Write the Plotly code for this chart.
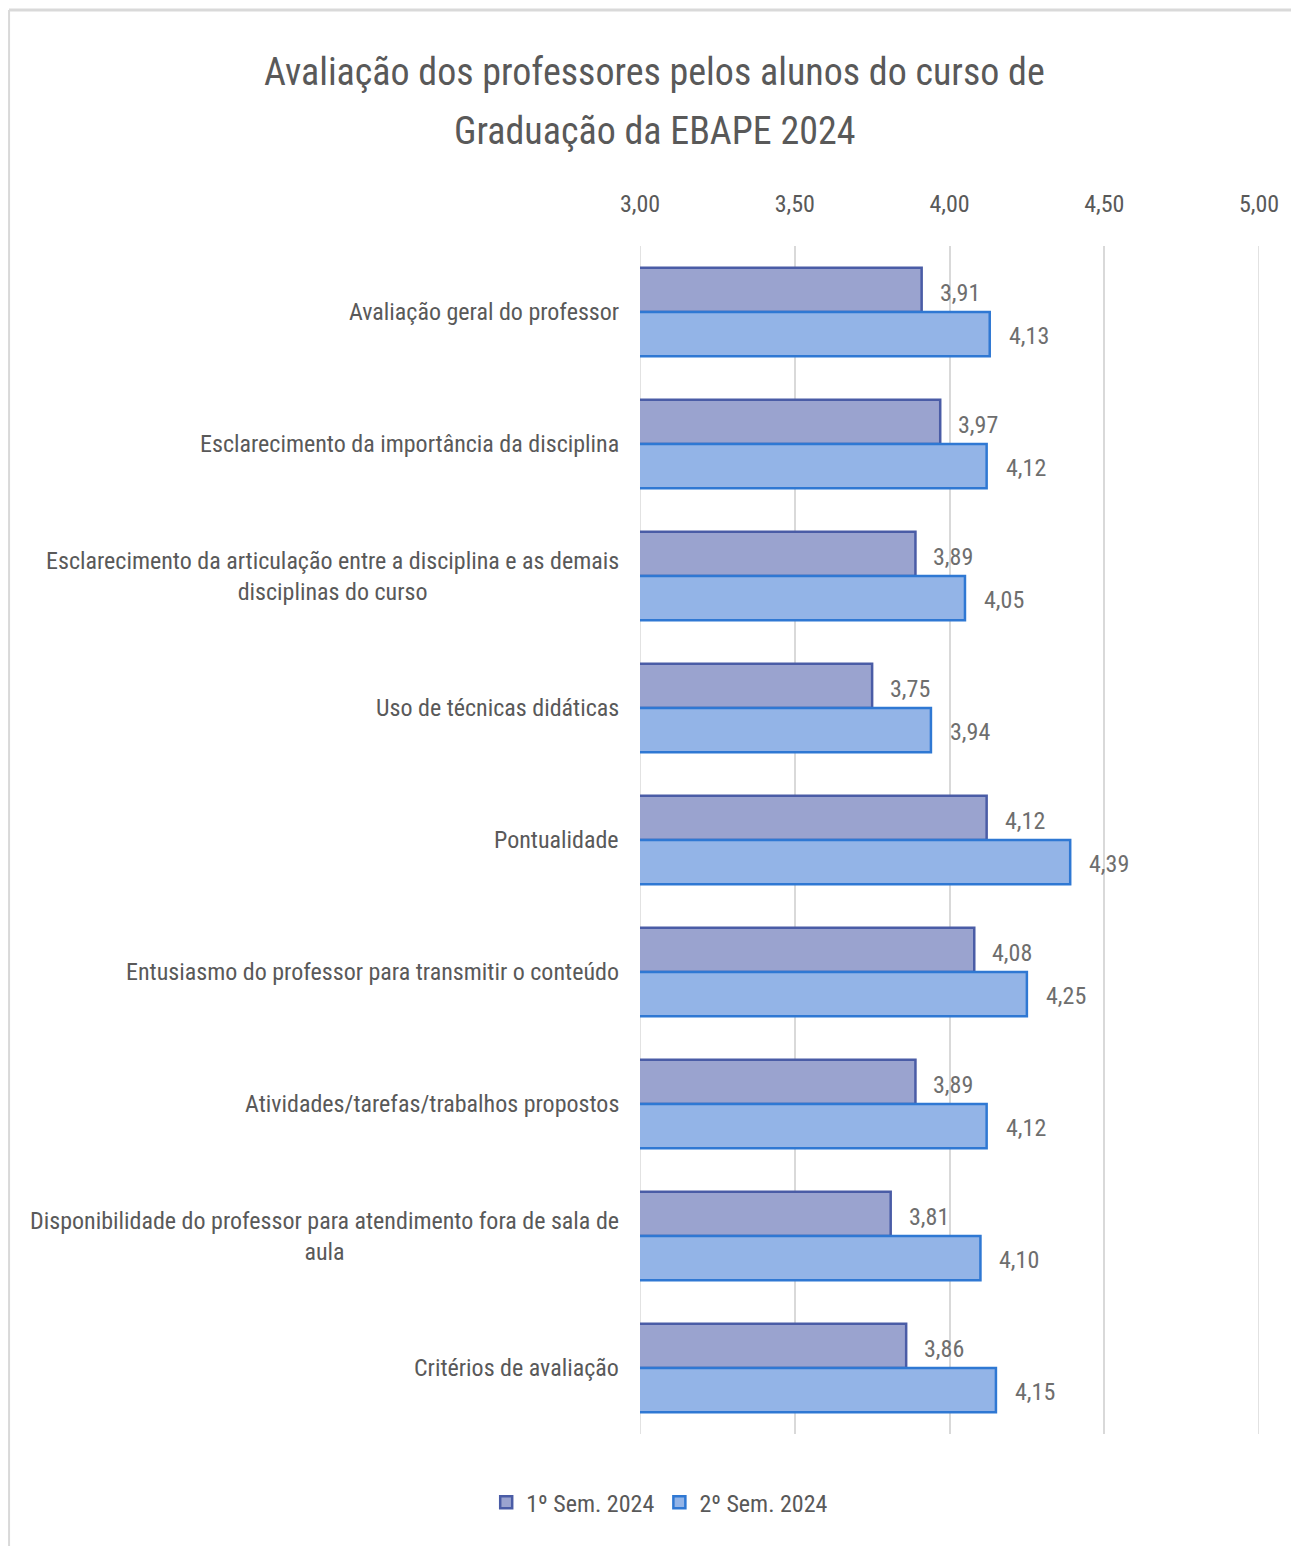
import plotly.graph_objects as go

categories = [
    "Avaliação geral do professor",
    "Esclarecimento da importância da disciplina",
    "Esclarecimento da articulação entre a disciplina e as demais<br>disciplinas do curso",
    "Uso de técnicas didáticas",
    "Pontualidade",
    "Entusiasmo do professor para transmitir o conteúdo",
    "Atividades/tarefas/trabalhos propostos",
    "Disponibilidade do professor para atendimento fora de sala de<br>aula",
    "Critérios de avaliação",
]
sem1 = [3.91, 3.97, 3.89, 3.75, 4.12, 4.08, 3.89, 3.81, 3.86]
sem2 = [4.13, 4.12, 4.05, 3.94, 4.39, 4.25, 4.12, 4.10, 4.15]
series_names = ["1º Sem. 2024", "2º Sem. 2024"]
tick_vals = [3.0, 3.5, 4.0, 4.5, 5.0]
tick_text = ["3,00", "3,50", "4,00", "4,50", "5,00"]
title_lines = ["Avaliação dos professores pelos alunos do curso de", "Graduação da EBAPE 2024"]

FONT = "Liberation Sans Narrow, Arial Narrow, Roboto Condensed, Liberation Sans, sans-serif"
GRAY = "#595959"
LBL = "#6e6e6e"

W, H = 1291, 1546
ML, MR, MT, MB = 640, 29, 246, 112
pw, ph = W - ML - MR, H - MT - MB
def px_x(p):
    return (p - ML) / pw
def px_y(p):
    return (H - MB - p) / ph

def fmt(v):
    return f"{v:.2f}".replace(".", ",")

fig = go.Figure()
fig.add_trace(go.Bar(
    y=categories, x=sem1, orientation="h", name=series_names[0],
    marker=dict(color="#9AA3CF", line=dict(color="#4A5CA6", width=2.5)),
))
fig.add_trace(go.Bar(
    y=categories, x=sem2, orientation="h", name=series_names[1],
    marker=dict(color="#93B4E7", line=dict(color="#2F78D3", width=2.5)),
))

for c, v1, v2 in zip(categories, sem1, sem2):
    fig.add_annotation(
        x=-0.03, xref="paper", y=c, yref="y", text=c, showarrow=False,
        xanchor="right", yanchor="middle", align="center",
        font=dict(family=FONT, size=24, color=GRAY),
    )
    fig.add_annotation(
        x=v1, xref="x", y=c, yref="y", text=fmt(v1), showarrow=False,
        xanchor="left", yanchor="middle", xshift=16, yshift=19,
        font=dict(family=FONT, size=24, color=LBL),
    )
    fig.add_annotation(
        x=v2, xref="x", y=c, yref="y", text=fmt(v2), showarrow=False,
        xanchor="left", yanchor="middle", xshift=17, yshift=-24,
        font=dict(family=FONT, size=24, color=LBL),
    )

# title, two lines
for line, ypx in zip(title_lines, (72, 131)):
    fig.add_annotation(
        x=px_x(655), xref="paper", y=px_y(ypx), yref="paper", text=line,
        showarrow=False, xanchor="center", yanchor="middle",
        font=dict(family=FONT, size=38, color=GRAY),
    )

fig.update_layout(
    width=W, height=H,
    margin=dict(l=ML, r=MR, t=MT, b=MB),
    paper_bgcolor="white", plot_bgcolor="white",
    barmode="group", bargap=0.33, bargroupgap=0,
    xaxis=dict(
        range=[3.0, 5.0], side="top", tickvals=tick_vals, ticktext=tick_text,
        showgrid=True, gridcolor="#D9D9D9", gridwidth=1.5, zeroline=False,
        showline=False, ticks="", ticklabelstandoff=28,
        tickfont=dict(family=FONT, size=24, color=GRAY),
    ),
    yaxis=dict(
        autorange="reversed", showticklabels=False, showgrid=False,
        showline=False, ticks="", zeroline=False,
    ),
    legend=dict(
        orientation="h", x=0.511, xref="container", xanchor="center",
        y=0.028, yref="container", yanchor="middle",
        font=dict(family=FONT, size=24, color=GRAY),
        traceorder="normal", itemwidth=30,
    ),
    showlegend=True,
)

# edge gridlines at 3,00 and 5,00
for xv in (tick_vals[0], tick_vals[-1]):
    fig.add_shape(type="line", xref="x", yref="paper", x0=xv, x1=xv, y0=0, y1=1,
                  line=dict(color="#D9D9D9", width=1.5), layer="below")

# chart border (top and left)
fig.add_shape(type="line", xref="paper", yref="paper",
              x0=px_x(6), x1=px_x(1300), y0=px_y(10), y1=px_y(10),
              line=dict(color="#D9D9D9", width=3))
fig.add_shape(type="line", xref="paper", yref="paper",
              x0=px_x(6), x1=px_x(6), y0=px_y(10), y1=px_y(1560),
              line=dict(color="#D9D9D9", width=2))

fig.write_html("out.html", config={"displayModeBar": False},
               post_script="document.body.style.margin='0';document.body.style.overflow='hidden';")
